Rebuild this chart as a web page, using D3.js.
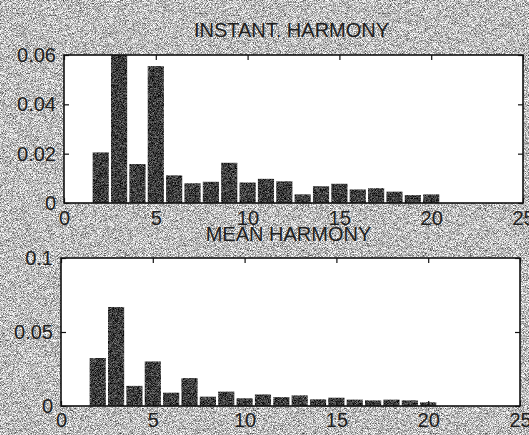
<!DOCTYPE html>
<html lang="en">
<head>
    <meta charset="UTF-8">
    <title>Harmony</title>
    <script src="https://cdnjs.cloudflare.com/ajax/libs/d3/7.8.5/d3.min.js"></script>
    <style>
        body { margin: 0; background: #b4b4b4; }
        text { font-family: "Liberation Sans", Arial, sans-serif; fill: #1e1e1e; }
    </style>
</head>
<body>

<div id="chart"></div>

<script>
    var width = 529;
    var height = 435;

    // harmonic index
    var harmonics = [1, 2, 3, 4, 5, 6, 7, 8, 9, 10, 11, 12, 13, 14, 15, 16, 17, 18, 19, 20];

    var instantValues = [0, 0.0205, 0.066, 0.0158, 0.0555, 0.0112, 0.008, 0.0086, 0.0163, 0.0083,
                         0.0098, 0.0088, 0.0035, 0.0068, 0.0078, 0.0055, 0.006, 0.0046, 0.0032, 0.0035];
    var meanValues = [0, 0.0324, 0.0669, 0.0136, 0.0301, 0.009, 0.0188, 0.0063, 0.0097, 0.0052,
                      0.0078, 0.006, 0.0072, 0.0045, 0.0056, 0.0043, 0.0038, 0.0043, 0.0038, 0.0025];

    var xTicks = [0, 5, 10, 15, 20, 25];
    var instantTicks = [0, 0.02, 0.04, 0.06];
    var instantTickLabels = ["0", "0.02", "0.04", "0.06"];
    var meanTicks = [0, 0.05, 0.1];
    var meanTickLabels = ["0", "0.05", "0.1"];

    var svg = d3.select("#chart")
        .append("svg")
        .attr("width", width)
        .attr("height", height);

    var defs = svg.append("defs");

    // scanned paper grain, kept inside the shape that uses it
    function grain(id, mean, amp) {
        var f = defs.append("filter").attr("id", id)
            .attr("filterUnits", "userSpaceOnUse")
            .attr("color-interpolation-filters", "sRGB")
            .attr("x", 0).attr("y", 0).attr("width", width).attr("height", height);
        f.append("feTurbulence")
            .attr("type", "fractalNoise")
            .attr("baseFrequency", 1.4)
            .attr("numOctaves", 1)
            .attr("seed", 7)
            .attr("result", "n");
        var b = mean - amp / 2;
        var row = amp + " 0 0 0 " + b + " ";
        f.append("feColorMatrix")
            .attr("in", "n")
            .attr("type", "matrix")
            .attr("values", row + row + row + "0 0 0 0 1")
            .attr("result", "g");
        f.append("feComposite")
            .attr("in", "g")
            .attr("in2", "SourceGraphic")
            .attr("operator", "in");
    }
    grain("paper", 0.74, 1.7);
    grain("ink", 0.24, 1.2);

    svg.append("rect")
        .attr("width", width)
        .attr("height", height)
        .attr("fill", "#b4b4b4")
        .attr("filter", "url(#paper)");

    function panel(cfg) {
        var x = d3.scaleLinear().domain([0, 25]).range([cfg.left, cfg.right]);
        var y = d3.scaleLinear().domain([0, cfg.ymax]).range([cfg.bottom, cfg.top]);
        var g = svg.append("g");

        g.append("rect")
            .attr("x", cfg.left)
            .attr("y", cfg.top)
            .attr("width", cfg.right - cfg.left)
            .attr("height", cfg.bottom - cfg.top)
            .attr("fill", "#ffffff");

        var clip = defs.append("clipPath").attr("id", cfg.id + "-clip");
        clip.append("rect")
            .attr("x", cfg.left)
            .attr("y", cfg.top)
            .attr("width", cfg.right - cfg.left)
            .attr("height", cfg.bottom - cfg.top);

        var bw = (x(1) - x(0)) * 0.88;
        g.append("g")
            .attr("clip-path", "url(#" + cfg.id + "-clip)")
            .selectAll("rect")
            .data(harmonics)
            .enter()
            .append("rect")
            .attr("x", function(d) { return x(d) - bw / 2; })
            .attr("y", function(d, i) { return y(cfg.values[i]); })
            .attr("width", bw)
            .attr("height", function(d, i) { return cfg.bottom - y(cfg.values[i]); })
            .attr("fill", "#3a3a3a")
            .attr("filter", "url(#ink)");

        // inward ticks on all four sides
        g.append("g")
            .attr("transform", "translate(0," + cfg.bottom + ")")
            .call(d3.axisBottom(x).tickValues(xTicks).tickFormat(d3.format("d"))
                .tickSizeInner(-5).tickSizeOuter(0).tickPadding(cfg.xpad));
        g.append("g")
            .attr("transform", "translate(0," + cfg.top + ")")
            .call(d3.axisTop(x).tickValues(xTicks).tickFormat("").tickSizeInner(-5).tickSizeOuter(0));
        g.append("g")
            .attr("transform", "translate(" + cfg.left + ",0)")
            .call(d3.axisLeft(y).tickValues(cfg.ticks)
                .tickFormat(function(d, i) { return cfg.tickLabels[i]; })
                .tickSizeInner(-5).tickSizeOuter(0).tickPadding(8));
        g.append("g")
            .attr("transform", "translate(" + cfg.right + ",0)")
            .call(d3.axisRight(y).tickValues(cfg.ticks).tickFormat("").tickSizeInner(-5).tickSizeOuter(0));

        g.selectAll(".domain").remove();
        g.selectAll(".tick line").attr("stroke", "#111").attr("stroke-width", 1.2);
        g.selectAll(".tick text").style("font-size", "20px").attr("fill", "#1e1e1e");

        g.append("rect")
            .attr("x", cfg.left)
            .attr("y", cfg.top)
            .attr("width", cfg.right - cfg.left)
            .attr("height", cfg.bottom - cfg.top)
            .attr("fill", "none")
            .attr("stroke", "#111")
            .attr("stroke-width", 1.6);

        g.append("text")
            .attr("x", (cfg.left + cfg.right) / 2 - 2)
            .attr("y", cfg.titleY)
            .attr("text-anchor", "middle")
            .style("font-size", "20px")
            .text(cfg.title);
    }

    panel({
        id: "instant",
        title: "INSTANT. HARMONY",
        titleY: 37,
        left: 64, right: 523, top: 55, bottom: 203,
        ymax: 0.06,
        values: instantValues,
        ticks: instantTicks,
        tickLabels: instantTickLabels,
        xpad: 8
    });

    panel({
        id: "mean",
        title: "MEAN HARMONY",
        titleY: 241,
        left: 61, right: 520, top: 258, bottom: 406,
        ymax: 0.1,
        values: meanValues,
        ticks: meanTicks,
        tickLabels: meanTickLabels,
        xpad: 7
    });
</script>

</body>
</html>
